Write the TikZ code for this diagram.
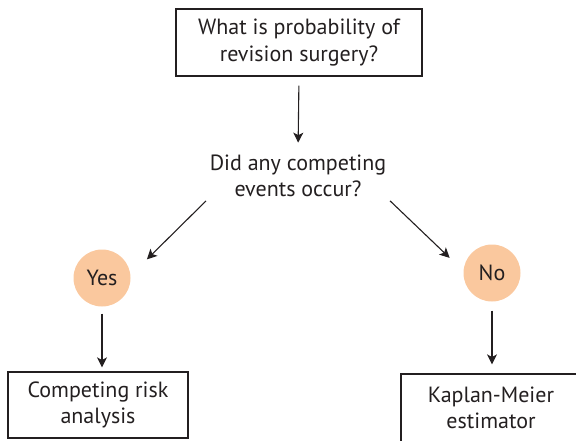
\documentclass[tikz,border=0pt]{standalone}
\usepackage{fontspec}
\setmainfont{PT Sans}
\usetikzlibrary{arrows.meta}
\definecolor{peach}{RGB}{250,200,158}
\definecolor{ink}{RGB}{35,31,32}

\begin{document}
\begin{tikzpicture}[x=1pt, y=-1pt,
    every node/.style={font=\fontsize{22}{26.5}\selectfont, text=ink, align=center},
    box/.style={draw=ink, line width=1.2pt, inner sep=0pt},
    answer/.style={circle, fill=peach, minimum size=57pt, inner sep=0pt},
    link/.style={draw=ink, line width=1.1pt, -{Stealth[length=10pt,width=10pt,inset=2.5pt]}}]
    \useasboundingbox (0,0) rectangle (576,440);
    \node[box, minimum width=246pt, minimum height=67pt] (top) at (299, 42.5) {What is probability of\\revision surgery?};
    \node[inner sep=0pt] (q) at (298, 176) {Did any competing\\events occur?};
    \node[answer] (yes) at (102, 278) {Yes};
    \node[answer] (no) at (492, 273) {No};
    \node[box, minimum width=180pt, minimum height=66pt] (cra) at (98, 405) {Competing risk\\analysis};
    \node[box, minimum width=180pt, minimum height=68pt] (km) at (491, 408) {Kaplan-Meier\\estimator};
    \draw [link, shorten <=9pt, shorten >=12pt] (top.south) -- (q.north);
    \draw [link, shorten <=5pt, shorten >=23pt] (q.south west) -- (yes.5);
    \draw [link, shorten <=5pt, shorten >=19pt] (q.south east) -- (no.176);
    \draw [link, shorten <=7pt, shorten >=4pt] (yes.south) -- (yes.south |- cra.north);
    \draw [link, shorten <=9pt, shorten >=9pt] (no.south) -- (no.south |- km.north);
\end{tikzpicture}
\end{document}
